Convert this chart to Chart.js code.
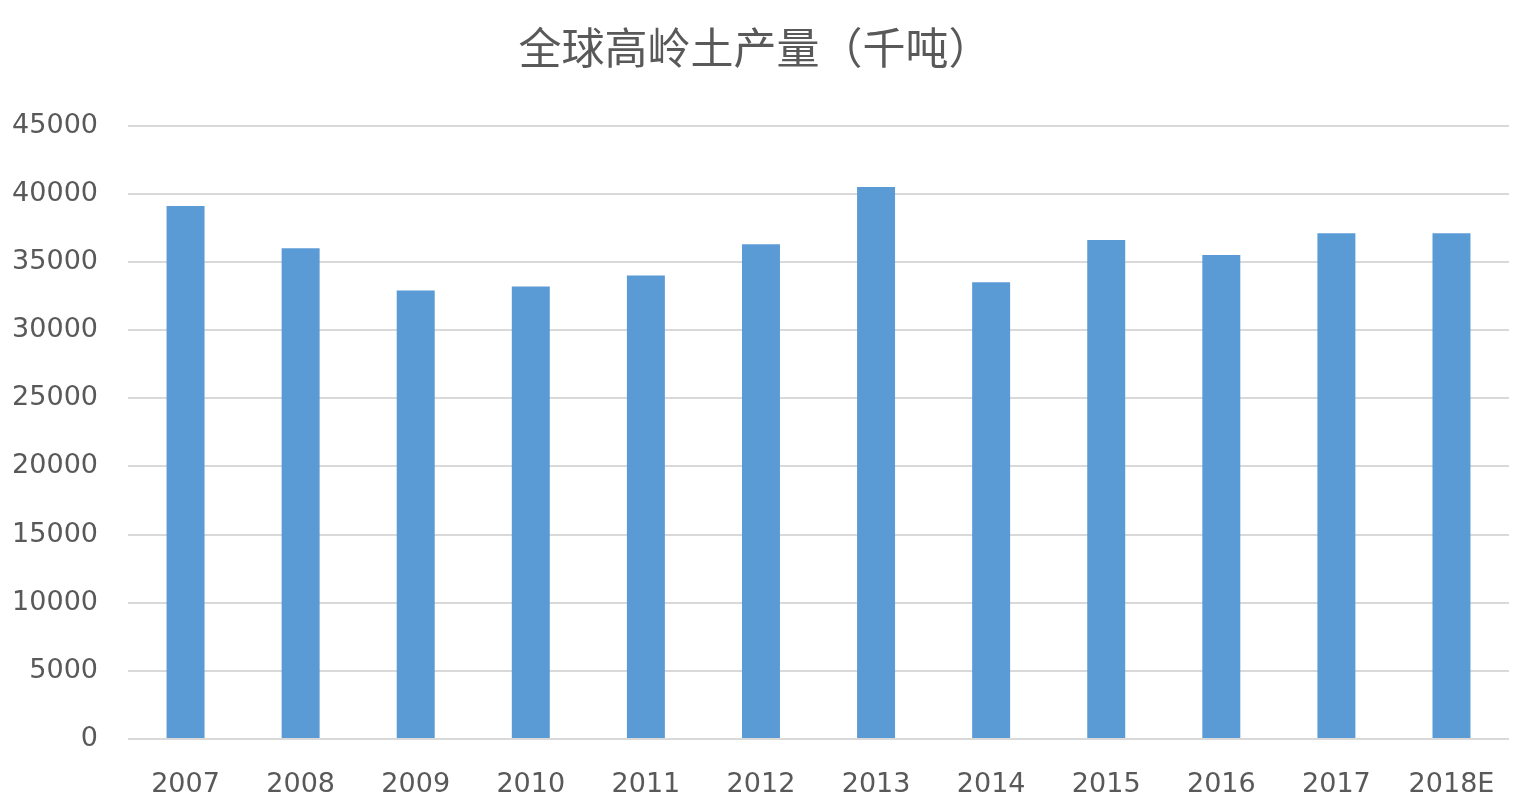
<!DOCTYPE html>
<html>
<head>
<meta charset="utf-8">
<script src="https://cdn.jsdelivr.net/npm/chart.js@4.4.1/dist/chart.umd.min.js"></script>
<style>
  html, body { margin: 0; padding: 0; background: #fff; }
  #wrap { width: 1525px; height: 807px; }
</style>
</head>
<body>
<div id="wrap"><canvas id="myChart" width="1525" height="807"></canvas></div>
<script>
// data
const years = ["2007", "2008", "2009", "2010", "2011", "2012", "2013", "2014", "2015", "2016", "2017", "2018E"];
const output = [39100, 36000, 32900, 33200, 34000, 36300, 40500, 33500, 36600, 35500, 37100, 37100];
const yTicks = [0, 5000, 10000, 15000, 20000, 25000, 30000, 35000, 40000, 45000];

const textColor = "#595959";

new Chart(document.getElementById("myChart"), {
  type: "bar",
  data: {
    labels: years,
    datasets: [{
      data: output,
      backgroundColor: "#5B9BD5",
      barPercentage: 0.33,
      categoryPercentage: 1.0
    }]
  },
  options: {
    responsive: false,
    animation: false,
    devicePixelRatio: 1,
    layout: { padding: { left: 0, right: 15, top: 0, bottom: 0 } },
    plugins: {
      legend: { display: false },
      tooltip: { enabled: false },
      title: {
        display: true,
        text: "全球高岭土产量（千吨）",
        color: textColor,
        font: { family: "'Noto Sans CJK SC', sans-serif", size: 43, weight: "normal", lineHeight: 1.2 },
        padding: { top: 22, bottom: 52 }
      }
    },
    scales: {
      x: {
        grid: { display: false, drawTicks: false },
        border: { display: false },
        ticks: {
          color: textColor,
          padding: 30,
          font: { family: "'DejaVu Sans', sans-serif", size: 27 }
        },
        afterFit: function (scale) { scale.height = 68; }
      },
      y: {
        min: 0,
        max: 45000,
        afterBuildTicks: function (scale) {
          scale.ticks = yTicks.map(v => ({ value: v }));
        },
        grid: { color: "#d9d9d9", lineWidth: 2, drawTicks: false },
        border: { display: false },
        ticks: {
          color: textColor,
          padding: 30,
          font: { family: "'DejaVu Sans', sans-serif", size: 27 },
          callback: function (value) { return String(value); }
        },
        afterFit: function (scale) { scale.width = 128; }
      }
    }
  }
});
</script>
</body>
</html>
